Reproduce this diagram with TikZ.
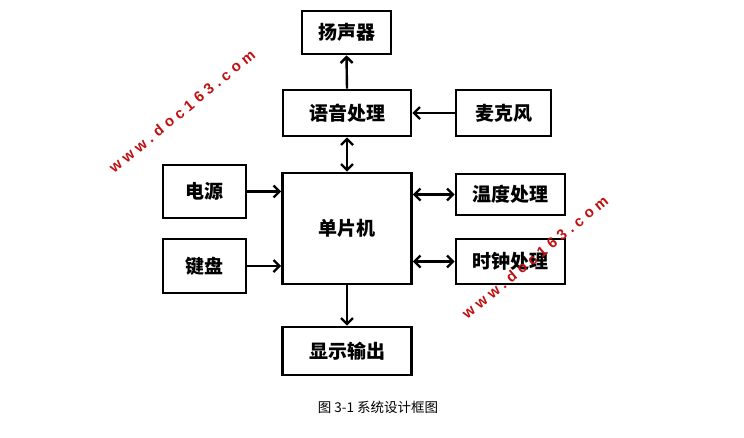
\documentclass[tikz,border=0pt]{standalone}
\usepackage{fontspec}
\usetikzlibrary{arrows.meta}
\newfontfamily\cjk{Noto Sans CJK SC}
\newfontfamily\wmfont[LetterSpace=30]{Liberation Sans}
\definecolor{wmred}{RGB}{192,16,16}
\begin{document}
\begin{tikzpicture}[x=1pt,y=-1pt,
  blk/.style={draw, line width=2.6pt, inner sep=0pt, align=center,
    font=\cjk\bfseries\fontsize{19}{21}\selectfont},
  conn/.style={line width=2.4pt},
  tip/.style={-{Straight Barb[length=6pt,width=12pt]}},
  both/.style={{Straight Barb[length=6pt,width=12pt]}-{Straight Barb[length=6pt,width=12pt]}},
  wm/.style={text=wmred, font=\wmfont\bfseries\fontsize{15}{15}\selectfont, rotate=39.5, inner sep=0pt}]
\useasboundingbox (0,0) rectangle (744,437);
\node[blk, minimum width=89pt, minimum height=43pt] (spk) at (346.5,32.5) {扬声器};
\node[blk, minimum width=128pt, minimum height=46pt] (voice) at (347,113) {语音处理};
\node[blk, minimum width=95pt, minimum height=46pt] (mic) at (503.5,113) {麦克风};
\node[blk, minimum width=83pt, minimum height=53pt] (pwr) at (204.5,191.5) {电源};
\node[blk, minimum width=83pt, minimum height=54pt] (kbd) at (204.5,266) {键盘};
\node[blk, minimum width=129pt, minimum height=111pt] (mcu) at (347,228.5) {单片机};
\node[blk, minimum width=109pt, minimum height=41pt] (temp) at (510.5,194.5) {温度处理};
\node[blk, minimum width=109pt, minimum height=45pt] (clk) at (510.5,261.5) {时钟处理};
\node[blk, minimum width=129pt, minimum height=48pt] (disp) at (347,351) {显示输出};
\draw[conn, tip] (voice.north) -- (spk.south);
\draw[conn, tip] (mic.west) -- (voice.east);
\draw[conn, both] (voice.south) -- (mcu.north);
\draw[conn, tip] (pwr.east) -- (mcu.west |- pwr.east);
\draw[conn, tip] (kbd.east) -- (mcu.west |- kbd.east);
\draw[conn, both] (mcu.east |- temp.west) -- (temp.west);
\draw[conn, both] (mcu.east |- clk.west) -- (clk.west);
\draw[conn, tip] (mcu.south) -- (disp.north);
\node[font=\cjk\fontsize{13.5}{15}\selectfont, inner sep=0pt] (cap) at (378,407) {图 3-1 系统设计框图};
\node[wm] (wm1) at (182,111) {www.doc163.com};
\node[wm] (wm2) at (535,257) {www.doc163.com};
\end{tikzpicture}
\end{document}
